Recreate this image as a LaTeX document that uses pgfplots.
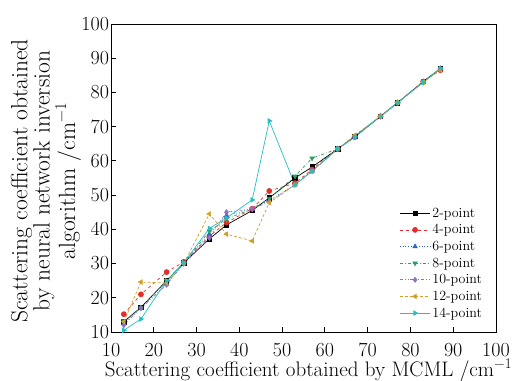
\documentclass[border=0pt]{standalone}
\usepackage{fontspec}
\setmainfont{Latin Modern Roman}
\usepackage{pgfplots}
\pgfplotsset{compat=1.18}
\definecolor{cred}{RGB}{230,45,45}
\definecolor{cblue}{RGB}{50,100,200}
\definecolor{cgreen}{RGB}{40,160,100}
\definecolor{cpurple}{RGB}{150,110,190}
\definecolor{cgold}{RGB}{210,160,40}
\definecolor{ccyan}{RGB}{40,190,190}
\begin{document}
\begin{tikzpicture}
\begin{axis}[
  scale only axis=true,
  width=385pt, height=308pt,
  xmin=10, xmax=100, ymin=10, ymax=100,
  xtick={10,20,...,100}, ytick={10,20,...,100},
  /pgf/number format/assume math mode=true,
  tick align=inside,
  xtick pos=bottom, ytick pos=left,
  major tick length=5pt,
  axis line style={line width=0.8pt},
  tick style={line width=0.8pt, black},
  ticklabel style={font=\fontsize{20}{20}\selectfont},
  xticklabel style={anchor=base, yshift=-24.5pt},
  yticklabel style={xshift=1.5pt},
  xlabel={Scattering coefficient obtained by MCML /cm\textsuperscript{−1}},
  xlabel style={font=\fontsize{21}{21}\selectfont, at={(axis description cs:0.513,0)}, anchor=base, yshift=-44.5pt},
  ylabel={Scattering coefficient obtained\\by neural network inversion\\algorithm /cm\textsuperscript{−1}},
  ylabel style={font=\fontsize{23.5}{20}\selectfont, align=center, at={(axis description cs:-0.1688,0.49)}, anchor=center, inner sep=0pt},
  legend style={at={(0.977,0.03)}, anchor=south east, draw=none, fill=none,
    font=\fontsize{14}{14}\selectfont, row sep=1.8pt},
  legend cell align=left,
  legend image code/.code={\draw[mark repeat=2,mark phase=2] plot coordinates {(0pt,0pt) (15pt,0pt) (30pt,0pt)};},
  every axis plot/.append style={line width=0.7pt, mark size=2.5pt},
]
\addplot[black, solid, mark=square*, mark size=2.2pt] coordinates {(13,13)(17,17.2)(23,25)(27,30.2)(33,37.2)(37,41.3)(43,45.5)(47,49.2)(53,55)(57,58.2)(63,63.5)(67,67.2)(73,73)(77,77)(83,83.2)(87,87)};
\addlegendentry{2-point}
\addplot[cred, dashed, mark=*, mark options={solid}] coordinates {(13,15.2)(17,21)(23,27.5)(27,30.5)(33,38)(37,42)(43,46)(47,51.2)(53,53.5)(57,57.5)(63,63.5)(67,67)(73,73)(77,77)(83,83.2)(87,86.5)};
\addlegendentry{4-point}
\addplot[cblue, dotted, mark=triangle*, mark options={solid}] coordinates {(13,12.5)(17,17)(23,24)(27,30)(33,38.5)(37,44)(43,46)(47,48.5)(53,53)(57,57)(63,63.5)(67,67)(73,73)(77,77)(83,83)(87,87)};
\addlegendentry{6-point}
\addplot[cgreen, dash dot, mark=triangle*, mark options={solid, rotate=180}] coordinates {(13,13.2)(17,17)(23,25)(27,30)(33,39.5)(37,43)(43,46)(47,49)(53,55.5)(57,60.8)(63,63.5)(67,67)(73,73)(77,77)(83,83)(87,87)};
\addlegendentry{8-point}
\addplot[cpurple, dash dot dot, mark=diamond*, mark options={solid}] coordinates {(13,12)(17,17)(23,23.8)(27,30)(33,37.5)(37,45)(43,46)(47,48)(53,53)(57,57)(63,63.5)(67,67)(73,73)(77,77)(83,83)(87,87)};
\addlegendentry{10-point}
\addplot[cgold, densely dashed, mark=triangle*, mark options={solid, rotate=90}] coordinates {(13,13)(17,24.6)(23,24.3)(27,30)(33,44.5)(37,38.6)(43,36.6)(47,47.8)(53,53)(57,57)(63,63.5)(67,67.5)(73,73)(77,77)(83,83)(87,86.5)};
\addlegendentry{12-point}
\addplot[ccyan, solid, mark=triangle*, mark options={solid, rotate=-90}] coordinates {(13,10.5)(17,13.8)(23,25)(27,30.2)(33,40.3)(37,43.3)(43,48.6)(47,71.7)(53,53)(57,57)(63,63.5)(67,67)(73,73)(77,77)(83,83)(87,87)};
\addlegendentry{14-point}
\end{axis}
\pgfresetboundingbox
\path[use as bounding box] ([shift={(-111pt,-49pt)}]current axis.south west) rectangle ([shift={(27pt,24pt)}]current axis.north east);
\end{tikzpicture}
\end{document}
